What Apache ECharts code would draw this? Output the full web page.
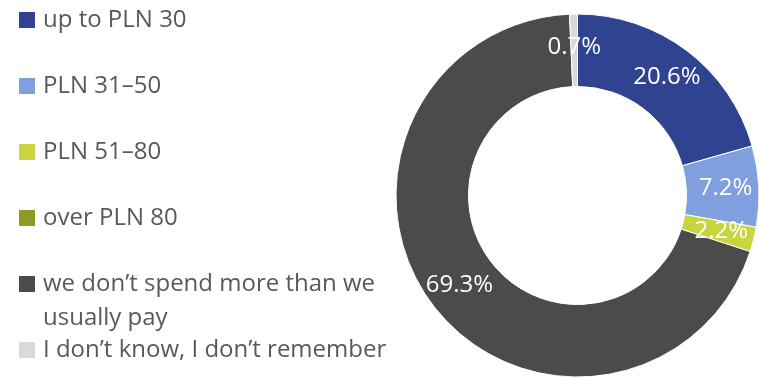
<!DOCTYPE html>
<html>
<head>
<meta charset="utf-8">
<script src="https://cdn.jsdelivr.net/npm/echarts@6/dist/echarts.min.js"></script>
<style>
  html, body { margin: 0; padding: 0; background: #ffffff; }
  #chart { width: 759px; height: 377px; }
</style>
</head>
<body>
<div id="chart"></div>
<script>
// Spending categories and their shares (%)
const categories = [
  'up to PLN 30',
  'PLN 31–50',
  'PLN 51–80',
  'over PLN 80',
  'we don’t spend more than we\nusually pay',
  'I don’t know, I don’t remember'
];
const shares = [20.6, 7.2, 2.2, 0, 69.3, 0.7];
const colors = ['#2f4391', '#7f9fdf', '#c8d53f', '#8f9a25', '#4b4b4a', '#d9d9d9'];

// Vertical position (icon centre) of each legend row
const legendRowCenters = [20, 86, 152, 218, 284, 350];

const FONT = '"Open Sans", sans-serif';

const legends = categories.map((name, i) => {
  const multi = name.indexOf('\n') >= 0;
  const lh = multi ? 34 : 24;
  // a wrapped label gets a leading blank line so its first line sits beside the icon
  const topOffset = multi ? lh * 1.5 : 12;
  return {
    orient: 'vertical',
    left: 19,
    top: legendRowCenters[i] - topOffset,
    padding: 0,
    itemWidth: 16,
    itemHeight: 16,
    icon: 'rect',
    selectedMode: false,
    itemStyle: { borderWidth: 0 },
    data: [name],
    formatter: multi ? (n => '\n' + n) : (n => n),
    textStyle: {
      fontFamily: FONT,
      fontSize: 24,
      color: '#595959',
      lineHeight: lh,
      padding: [0, 0, 0, 3]
    }
  };
});

const chart = echarts.init(document.getElementById('chart'), null, { renderer: 'canvas' });
chart.setOption({
  animation: false,
  color: colors,
  legend: legends,
  series: [{
    type: 'pie',
    center: [577.5, 195.5],
    radius: [109, 181.5],
    startAngle: 90,
    clockwise: true,
    avoidLabelOverlap: false,
    labelLine: { show: false },
    itemStyle: { borderColor: '#ffffff', borderWidth: 1 },
    label: {
      show: true,
      position: 'inside',
      fontFamily: FONT,
      fontSize: 24,
      color: '#ffffff',
      formatter: p => (p.value > 0 ? p.value.toFixed(1) + '%' : '')
    },
    data: categories.map((name, i) => ({
      name: name,
      value: shares[i],
      itemStyle: shares[i] > 0 ? {} : { borderWidth: 0 }
    }))
  }]
});
</script>
</body>
</html>
